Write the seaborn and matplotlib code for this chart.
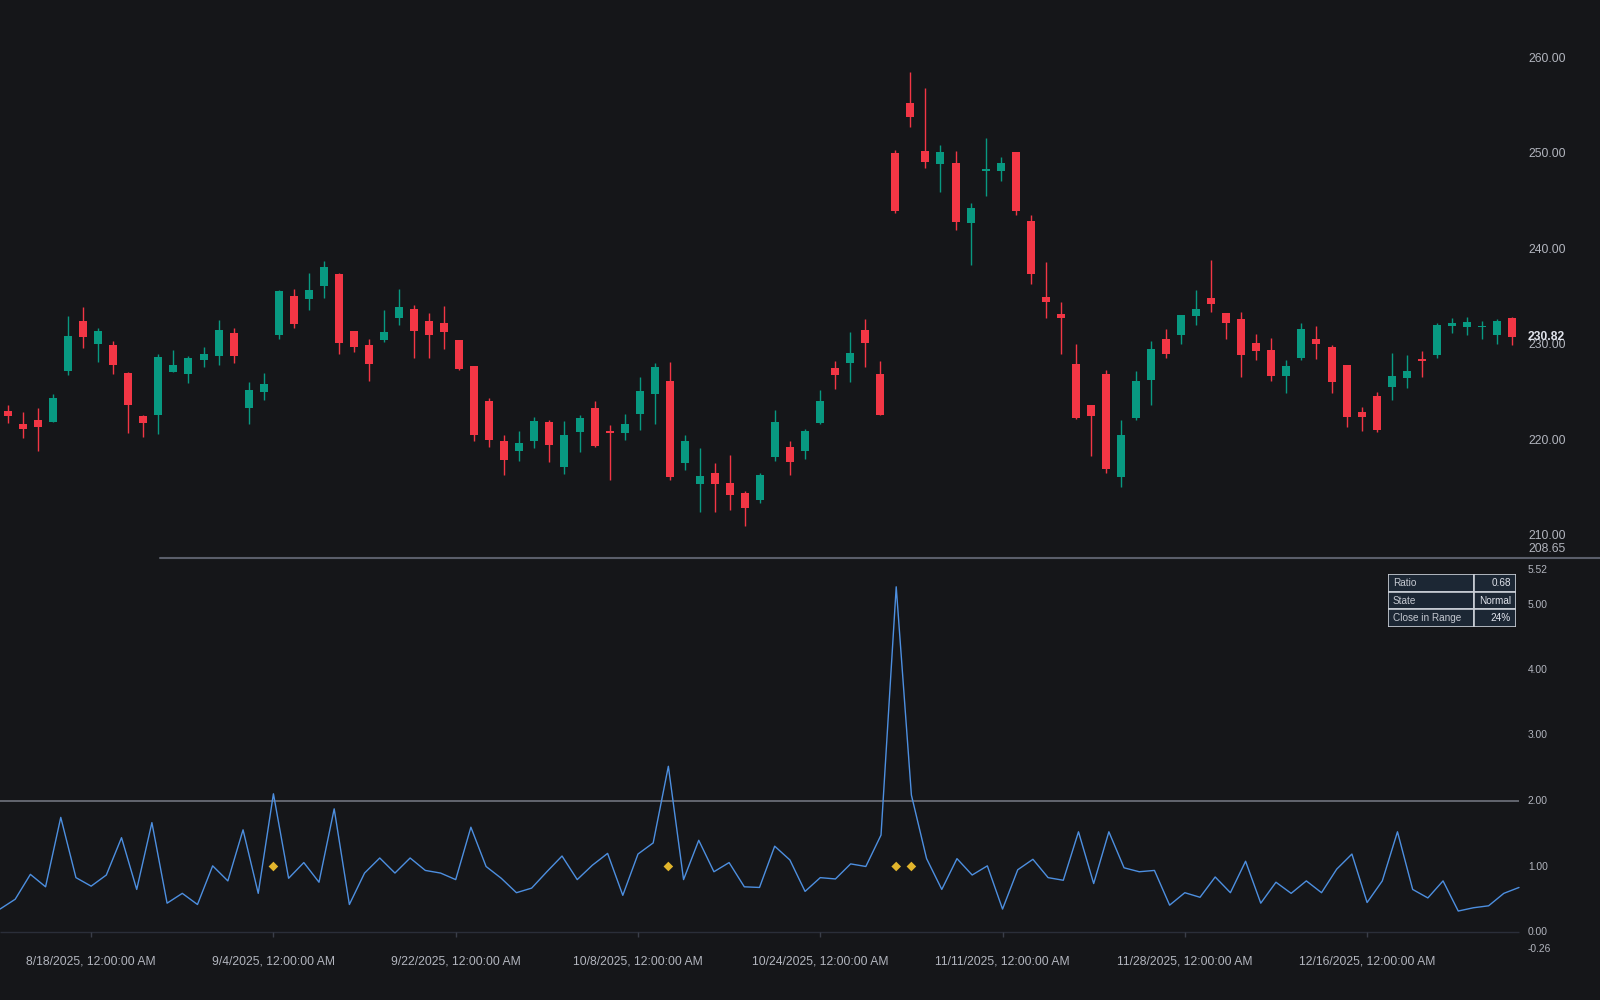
import numpy as np
import pandas as pd
import seaborn as sns
import matplotlib.pyplot as plt
from matplotlib.patches import Rectangle

# daily bars 8/8/2025 .. 12/31/2025 (101 trading days)
opens = [223.1, 221.7, 222.2, 221.9, 227.3, 232.5, 230.1, 230.0, 227.1, 222.6,
         222.65, 227.2, 227.0, 228.45, 228.9, 231.3, 223.4, 225.1, 231.1, 235.2,
         234.8, 236.2, 237.5, 231.5, 230.05, 230.5, 232.8, 233.8, 232.5, 232.3,
         230.55, 227.8, 224.1, 220.0, 218.95, 220.0, 222.0, 217.2, 220.9, 223.4,
         221.0, 220.8, 222.8, 224.9, 226.2, 217.6, 215.4, 216.6, 215.6, 214.5,
         213.8, 218.3, 219.3, 218.9, 221.8, 227.6, 228.1, 231.6, 227.0, 250.1,
         255.4, 250.4, 249.0, 249.1, 242.8, 248.3, 248.3, 250.25, 243.05, 235.05,
         233.25, 228.05, 223.7, 227.0, 216.2, 222.4, 226.3, 230.7, 231.1, 233.06,
         235.0, 233.35, 232.75, 230.25, 229.5, 226.75, 228.7, 230.7, 229.8, 227.9,
         223.0, 224.65, 225.6, 226.6, 228.6, 228.95, 232.05, 231.95, 231.9, 231.1,
         232.9]
highs = [223.7, 223.0, 223.4, 224.9, 233.1, 234.0, 231.8, 230.4, 227.2, 222.7,
         229.1, 229.5, 228.9, 229.8, 232.6, 231.8, 226.1, 227.1, 235.75, 235.9,
         237.6, 238.8, 237.6, 231.5, 230.7, 233.7, 235.9, 234.2, 233.4, 234.1,
         230.55, 227.8, 224.5, 220.6, 221.0, 222.5, 222.2, 222.05, 222.7, 224.1,
         221.6, 222.8, 226.7, 228.1, 228.2, 220.6, 219.2, 217.6, 218.5, 214.7,
         216.6, 223.2, 220.0, 221.2, 225.3, 228.3, 231.4, 232.75, 228.35, 250.5,
         258.6, 257.0, 250.96, 250.4, 244.9, 251.7, 249.7, 250.3, 243.7, 238.7,
         234.5, 230.1, 223.7, 227.4, 222.2, 227.3, 230.45, 231.7, 233.2, 235.75,
         238.9, 233.35, 233.5, 231.2, 230.75, 228.45, 232.35, 232.0, 230.0, 227.9,
         223.55, 225.1, 229.15, 229.0, 229.4, 232.35, 232.9, 232.95, 232.55, 232.75,
         233.0]
lows = [221.8, 220.3, 218.9, 221.9, 226.9, 229.7, 228.2, 227.0, 220.8, 220.4,
        220.7, 227.2, 226.0, 227.75, 227.9, 228.1, 221.7, 224.3, 230.7, 231.8,
        233.7, 235.0, 229.05, 229.3, 226.2, 230.3, 232.15, 228.7, 228.7, 229.6,
        227.4, 220.0, 219.3, 216.4, 217.9, 219.2, 217.8, 216.5, 218.8, 219.3,
        215.9, 220.1, 221.1, 221.7, 215.9, 216.9, 212.5, 212.55, 212.7, 211.0,
        213.5, 217.9, 216.4, 218.1, 221.7, 225.45, 226.1, 227.7, 222.65, 243.9,
        252.9, 248.6, 246.1, 242.1, 238.4, 245.6, 247.2, 243.7, 236.45, 232.85,
        229.1, 222.3, 218.4, 216.6, 215.1, 222.2, 223.7, 228.7, 230.1, 232.15,
        233.5, 230.6, 226.7, 228.5, 226.2, 225.0, 228.4, 228.6, 225.0, 221.4,
        221.05, 220.9, 224.3, 225.55, 226.65, 228.7, 231.3, 231.1, 230.7, 230.15,
        230.05]
closes = [222.6, 221.2, 221.4, 224.5, 231.0, 230.9, 231.5, 227.9, 223.7, 221.8,
          228.8, 227.9, 228.7, 229.1, 231.6, 228.9, 225.3, 225.9, 235.7, 232.2,
          235.8, 238.2, 230.2, 229.85, 228.0, 231.4, 234.0, 231.5, 231.1, 231.35,
          227.5, 220.6, 220.1, 218.0, 219.75, 222.1, 219.5, 220.6, 222.4, 219.4,
          220.8, 221.7, 225.2, 227.7, 216.2, 220.0, 216.3, 215.45, 214.3, 212.9,
          216.4, 222.0, 217.8, 221.0, 224.15, 226.85, 229.2, 230.2, 222.7, 244.1,
          253.95, 249.2, 250.2, 242.95, 244.4, 248.4, 249.1, 244.1, 237.5, 234.55,
          232.8, 222.4, 222.6, 217.0, 220.6, 226.25, 229.6, 229.05, 233.2, 233.8,
          234.3, 232.3, 229.0, 229.4, 226.8, 227.85, 231.75, 230.15, 226.1, 222.45,
          222.5, 221.1, 226.75, 227.3, 228.3, 232.1, 232.35, 232.45, 232.05, 232.55,
          230.82]

# volume ratio indicator
ratio = [0.35, 0.50, 0.88, 0.69, 1.75, 0.83, 0.70, 0.87, 1.44, 0.65,
         1.67, 0.44, 0.59, 0.42, 1.01, 0.78, 1.56, 0.59, 2.11, 0.82,
         1.06, 0.76, 1.88, 0.42, 0.90, 1.13, 0.90, 1.13, 0.94, 0.90,
         0.80, 1.60, 1.00, 0.82, 0.60, 0.67, 0.92, 1.16, 0.80, 1.02,
         1.20, 0.56, 1.19, 1.36, 2.53, 0.80, 1.40, 0.92, 1.06, 0.69,
         0.68, 1.31, 1.10, 0.62, 0.83, 0.81, 1.04, 1.00, 1.48, 5.27,
         2.09, 1.12, 0.65, 1.12, 0.87, 1.01, 0.35, 0.95, 1.11, 0.83,
         0.79, 1.53, 0.74, 1.53, 0.98, 0.92, 0.94, 0.41, 0.60, 0.53,
         0.84, 0.60, 1.08, 0.44, 0.76, 0.59, 0.78, 0.60, 0.96, 1.19,
         0.45, 0.78, 1.53, 0.65, 0.52, 0.78, 0.32, 0.37, 0.40, 0.59,
         0.68]
signal_idx = [18, 44, 59, 60]
signal_level = 1.0
threshold = 2.0

tick_idx = [6, 18, 30, 42, 54, 66, 78, 90]
tick_labels = ['8/18/2025, 12:00:00 AM', '9/4/2025, 12:00:00 AM',
               '9/22/2025, 12:00:00 AM', '10/8/2025, 12:00:00 AM',
               '10/24/2025, 12:00:00 AM', '11/11/2025, 12:00:00 AM',
               '11/28/2025, 12:00:00 AM', '12/16/2025, 12:00:00 AM']
price_ticks = [210, 220, 230, 240, 250, 260]
ratio_ticks = [0, 1, 2, 3, 4, 5]
ratio_top, ratio_bottom = 5.52, -0.26
price_low_mark = 208.65

table_rows = [('Ratio', '0.68'), ('State', 'Normal'), ('Close in Range', '24%')]

BG = '#151619'
UP, DOWN = '#089981', '#f23645'
TXT = '#b2b5be'

sns.set_theme(style='dark', rc={'axes.facecolor': BG, 'figure.facecolor': BG})
plt.rcParams['font.family'] = ['Liberation Sans', 'DejaVu Sans']

df = pd.DataFrame({'o': opens, 'h': highs, 'l': lows, 'c': closes})
df['i'] = np.arange(len(df))
df['col'] = np.where(df['c'] >= df['o'], UP, DOWN)

fig = plt.figure(figsize=(16, 10), dpi=100)
fig.patch.set_facecolor(BG)

# price pane
ax = fig.add_axes([0, 0.442, 1, 0.558])
ax.set_facecolor(BG)
ax.vlines(df['i'], df['l'], df['h'], colors=df['col'], lw=1.0)
body_lo = np.minimum(df['o'], df['c'])
body_h = np.maximum(np.abs(df['c'] - df['o']), 0.12)
ax.bar(df['i'], body_h, bottom=body_lo, width=0.53, color=df['col'], linewidth=0)
ax.set_xlim(-8 / 15.04, (1600 - 8) / 15.04)
ax.set_ylim(210 - 22 / 9.54, 210 + 536 / 9.54)
ax.axis('off')
tr = ax.get_yaxis_transform()
for p in price_ticks:
    ax.text(0.955, p, f'{p:.2f}', transform=tr, color=TXT, fontsize=8.7, va='center', ha='left')
ax.text(0.955, price_low_mark, f'{price_low_mark:.2f}', transform=tr, color=TXT,
        fontsize=8.7, va='center', ha='left')
ax.text(0.955, closes[-1], f'{closes[-1]:.2f}', transform=tr, color='#e0e3eb',
        fontsize=8.7, fontweight='bold', va='center', ha='left')
ax.plot([0.1, 1.0], [0.0, 0.0], transform=ax.transAxes, color='#5a5e6a', lw=1.5, clip_on=False)

# ratio pane
ax2 = fig.add_axes([0, 0, 1, 0.442])
ax2.set_facecolor(BG)
n = len(ratio)
ax2.set_xlim(0, 1600 / 15.19)
ax2.set_ylim((932 - 1000) / 65.5, (932 - 558) / 65.5)
ax2.hlines(threshold, 0, n - 1, color='#787b86', lw=1.1)
ax2.hlines(0, 0, n - 1, color='#2a2e39', lw=1.0)
sns.lineplot(x=np.arange(n), y=ratio, ax=ax2, color='#4d8fe0', lw=1.0)
sns.scatterplot(x=signal_idx, y=[signal_level] * len(signal_idx), ax=ax2, marker='D',
                s=24, color='#e2b52c', edgecolor='none', zorder=5)
ax2.vlines(tick_idx, -5 / 65.5, 0, color='#3a3e49', lw=1.0)
for ti, lab in zip(tick_idx, tick_labels):
    ax2.text(ti, -30 / 65.5, lab, color=TXT, fontsize=8.7, ha='center', va='center')
tr2 = ax2.get_yaxis_transform()
for v in ratio_ticks + [ratio_top, ratio_bottom]:
    ax2.text(0.955, v, f'{v:.2f}', transform=tr2, color=TXT, fontsize=7.4, va='center', ha='left')
ax2.axis('off')

# info table
axt = fig.add_axes([1388 / 1600, 1 - 627 / 1000, 128 / 1600, 53 / 1000])
axt.set_xlim(0, 128)
axt.set_ylim(53, 0)
axt.axis('off')
row_h = 53 / 3
for r, (k, v) in enumerate(table_rows):
    y0 = r * row_h
    axt.add_patch(Rectangle((0, y0), 86, row_h, facecolor='#1c2734', edgecolor='#c9ced6', lw=1.2))
    axt.add_patch(Rectangle((86, y0), 42, row_h, facecolor='#1c2734', edgecolor='#c9ced6', lw=1.2))
    axt.text(5, y0 + row_h / 2, k, color='#c5c9d1', fontsize=7.2, va='center', ha='left')
    axt.text(123, y0 + row_h / 2, v, color='#e0e3eb', fontsize=7.2, va='center', ha='right')

fig.savefig('out.png', dpi=100, facecolor=BG)
